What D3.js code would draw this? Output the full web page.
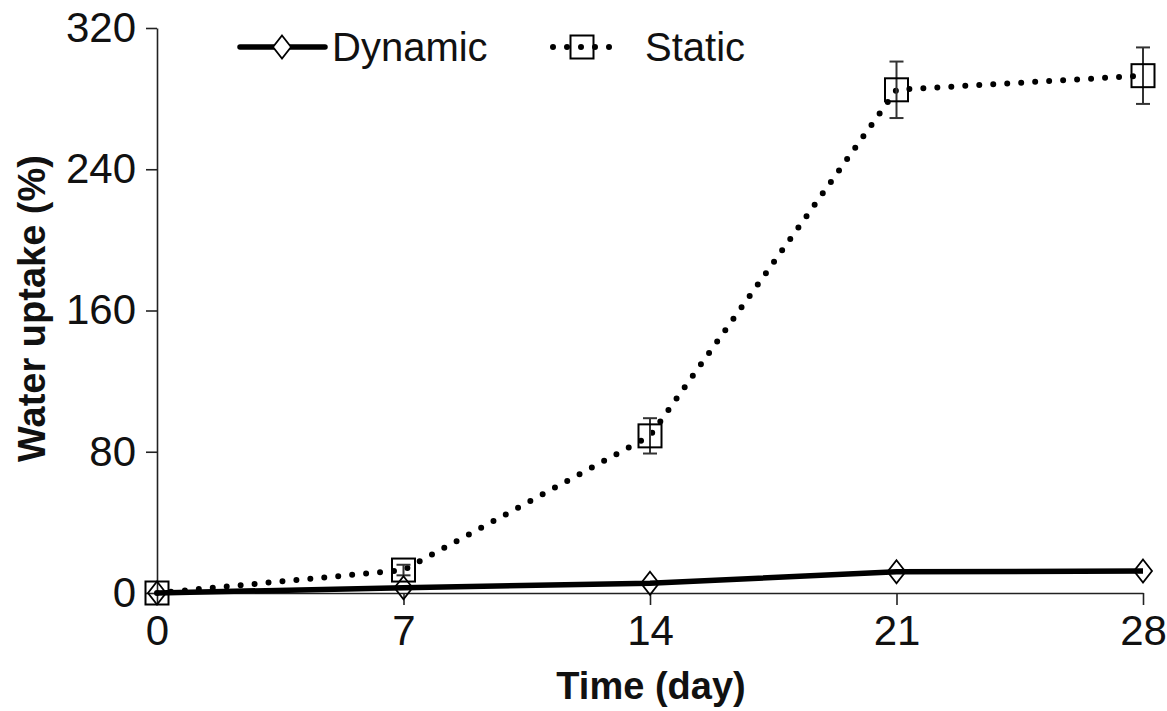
<!DOCTYPE html>
<html>
<head>
<meta charset="utf-8">
<script src="https://cdn.jsdelivr.net/npm/d3@7"></script>
<style>
  html, body { margin: 0; padding: 0; background: #fff; }
  svg { display: block; }
  text { font-family: "Liberation Sans", Arial, sans-serif; fill: #111; }
</style>
</head>
<body>
<svg id="chart" width="1167" height="711"></svg>
<script>
// Water uptake over time, dynamic vs static conditions
const days = [0, 7, 14, 21, 28];
const dynamicValues = [0, 3, 5.5, 12, 12.5];
const staticValues = [0, 13, 89, 285, 293];
const staticErrors = [0, 3, 10, 16, 16];
const yTicks = [0, 80, 160, 240, 320];
const seriesNames = ["Dynamic", "Static"];

const svg = d3.select("#chart");
const x = d3.scaleLinear().domain([0, 28]).range([157, 1143]);
const y = d3.scaleLinear().domain([0, 320]).range([593, 28]);

const axisColor = "#222";
const font = "Liberation Sans, Arial, sans-serif";

// Y axis
const yAxis = svg.append("g")
  .attr("transform", `translate(${x(0)},0)`)
  .call(d3.axisLeft(y).tickValues(yTicks).tickSize(11).tickPadding(10).tickSizeOuter(0));
yAxis.select(".domain").attr("stroke", axisColor).attr("stroke-width", 1.6);
yAxis.selectAll(".tick line").attr("stroke", axisColor).attr("stroke-width", 1.6);
yAxis.selectAll(".tick text").attr("font-size", 42).attr("font-family", font).attr("fill", "#111");

// X axis
const xAxis = svg.append("g")
  .attr("transform", `translate(0,${y(0)})`)
  .call(d3.axisBottom(x).tickValues(days).tickSize(12).tickPadding(10).tickSizeOuter(0));
xAxis.select(".domain").attr("stroke", axisColor).attr("stroke-width", 1.6);
xAxis.selectAll(".tick line").attr("stroke", axisColor).attr("stroke-width", 1.6);
xAxis.selectAll(".tick text").attr("font-size", 42).attr("font-family", font).attr("fill", "#111");

// Axis titles
svg.append("text")
  .attr("x", 651)
  .attr("y", 699)
  .attr("text-anchor", "middle")
  .attr("font-size", 38)
  .attr("font-weight", "bold")
  .text("Time (day)");

svg.append("text")
  .attr("transform", `translate(45,${y(160) - 2}) rotate(-90)`)
  .attr("text-anchor", "middle")
  .attr("font-size", 38)
  .attr("font-weight", "bold")
  .text("Water uptake (%)");

// Series lines
const line = d3.line().x(d => x(d[0])).y(d => y(d[1]));
const staticPts = days.map((d, i) => [d, staticValues[i]]);
const dynamicPts = days.map((d, i) => [d, dynamicValues[i]]);

svg.append("path")
  .attr("d", line(staticPts))
  .attr("fill", "none")
  .attr("stroke", "#000")
  .attr("stroke-width", 6)
  .attr("stroke-linecap", "round")
  .attr("stroke-dasharray", "0 14");

svg.append("path")
  .attr("d", line(dynamicPts))
  .attr("fill", "none")
  .attr("stroke", "#000")
  .attr("stroke-width", 5.5);

// Error bars for static series
const errG = svg.append("g").attr("stroke", "#333").attr("stroke-width", 2);
days.forEach((d, i) => {
  const e = staticErrors[i];
  if (e <= 0) return;
  const cx = x(d), top = y(staticValues[i] + e), bot = y(staticValues[i] - e);
  errG.append("line").attr("x1", cx).attr("x2", cx).attr("y1", top).attr("y2", bot);
  errG.append("line").attr("x1", cx - 7).attr("x2", cx + 7).attr("y1", top).attr("y2", top);
  errG.append("line").attr("x1", cx - 7).attr("x2", cx + 7).attr("y1", bot).attr("y2", bot);
});

// Markers
const sq = 23, dw = 9, dh = 11.5;
const diamondPath = (cx, cy) => `M${cx},${cy - dh}L${cx + dw},${cy}L${cx},${cy + dh}L${cx - dw},${cy}Z`;

svg.append("g").selectAll("rect")
  .data(staticPts).join("rect")
  .attr("x", d => x(d[0]) - sq / 2)
  .attr("y", d => y(d[1]) - sq / 2)
  .attr("width", sq).attr("height", sq)
  .attr("fill", "none").attr("stroke", "#000").attr("stroke-width", 2);

svg.append("g").selectAll("path")
  .data(dynamicPts).join("path")
  .attr("d", d => diamondPath(x(d[0]), y(d[1])))
  .attr("fill", "none").attr("stroke", "#000").attr("stroke-width", 1.8);

// Legend
const legY = 47;
svg.append("line").attr("x1", 240).attr("x2", 325).attr("y1", legY).attr("y2", legY)
  .attr("stroke", "#000").attr("stroke-width", 5.5).attr("stroke-linecap", "round");
svg.append("path").attr("d", diamondPath(282, legY))
  .attr("fill", "#fff").attr("stroke", "#000").attr("stroke-width", 1.8);
svg.append("text").attr("x", 332).attr("y", legY + 14).attr("font-size", 40).text(seriesNames[0]);

svg.append("line").attr("x1", 553).attr("x2", 614).attr("y1", legY).attr("y2", legY)
  .attr("stroke", "#000").attr("stroke-width", 6).attr("stroke-linecap", "round")
  .attr("stroke-dasharray", "0 14");
svg.append("rect").attr("x", 582 - sq / 2).attr("y", legY - sq / 2).attr("width", sq).attr("height", sq)
  .attr("fill", "none").attr("stroke", "#000").attr("stroke-width", 2);
svg.append("text").attr("x", 645).attr("y", legY + 14).attr("font-size", 40).text(seriesNames[1]);
</script>
</body>
</html>
